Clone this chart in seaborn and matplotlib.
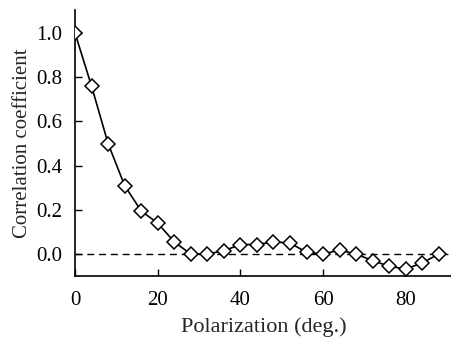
import matplotlib
matplotlib.use("Agg")
import matplotlib.pyplot as plt
import pandas as pd
import seaborn as sns

# Values
polarization = [0, 4, 8, 12, 16, 20, 24, 28, 32, 36, 40, 44,
                48, 52, 56, 60, 64, 68, 72, 76, 80, 84, 88]
correlation = [1.0, 0.76, 0.50, 0.31, 0.195, 0.14, 0.055, 0.0, 0.0, 0.015,
               0.043, 0.043, 0.055, 0.05, 0.008, 0.0, 0.018, 0.0, -0.03,
               -0.055, -0.068, -0.04, 0.0]
x_ticks = [0, 20, 40, 60, 80]
y_ticks = [0.0, 0.2, 0.4, 0.6, 0.8, 1.0]

sns.set_style("ticks")
plt.rcParams['font.family'] = ['Liberation Serif', 'DejaVu Serif']

df = pd.DataFrame({"pol": polarization, "corr": correlation})

fig = plt.figure(figsize=(4.52, 3.38), dpi=100)
ax = fig.add_axes([0.166, 0.183, 0.834, 0.787])

sns.lineplot(data=df, x="pol", y="corr", ax=ax, color="black", lw=1.2,
             marker="D", markersize=7.5, markerfacecolor="white",
             markeredgecolor="black", markeredgewidth=1.1, zorder=3)
ax.axhline(0, color="black", lw=1.0, ls=(0, (5, 3.5)), zorder=2)

ax.set_xlim(0, 91.2)
ax.set_ylim(-0.1, 1.104)
ax.set_xticks(x_ticks)
ax.set_yticks(y_ticks)
ax.set_yticklabels([f"{v:.1f}" for v in y_ticks])
ax.tick_params(direction="in", length=5, width=1, labelsize=15,
               colors="black")
ax.tick_params(axis="x", pad=11)
ax.tick_params(axis="y", pad=9)
for side in ["top", "right"]:
    ax.spines[side].set_visible(False)
for side in ["left", "bottom"]:
    ax.spines[side].set_linewidth(1.2)
    ax.spines[side].set_color("black")
ax.set_xlabel("Polarization (deg.)", fontsize=16, labelpad=5)
ax.set_ylabel("Correlation coefficient", fontsize=15, labelpad=3)

fig.savefig("out.png", dpi=100)
